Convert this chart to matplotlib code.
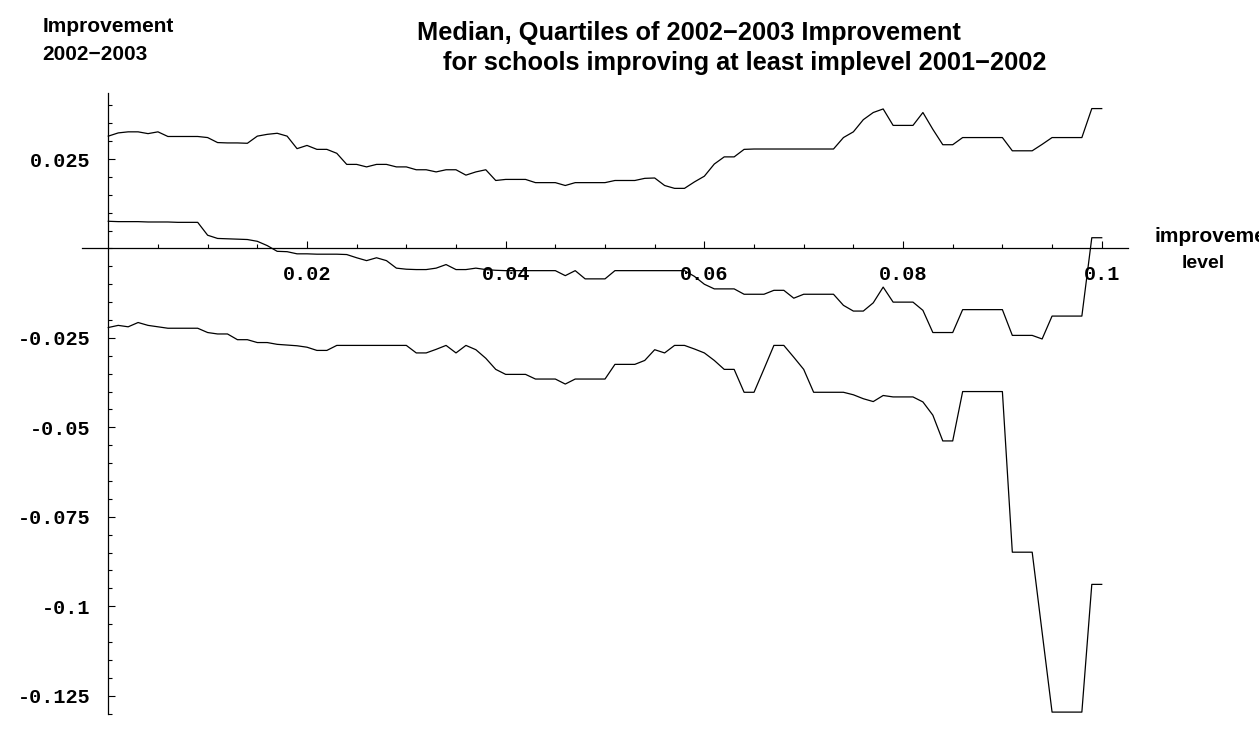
import numpy as np
import matplotlib
matplotlib.use("Agg")
import matplotlib.pyplot as plt

# improvement level 2001-2002 (0 .. 0.1 step 0.001)
implevel = np.arange(101) / 1000.0

upper_q = [0.0314, 0.0323, 0.0326, 0.0326, 0.0321, 0.0326, 0.0313, 0.0313, 0.0313, 0.0313,
           0.0310, 0.0296, 0.0295, 0.0295, 0.0294, 0.0314, 0.0319, 0.0322, 0.0314, 0.0279,
           0.0288, 0.0277, 0.0277, 0.0266, 0.0235, 0.0235, 0.0228, 0.0235, 0.0235, 0.0228,
           0.0228, 0.0220, 0.0220, 0.0214, 0.0220, 0.0220, 0.0205, 0.0214, 0.0220, 0.0190,
           0.0193, 0.0193, 0.0193, 0.0184, 0.0184, 0.0184, 0.0176, 0.0184, 0.0184, 0.0184,
           0.0184, 0.0190, 0.0190, 0.0190, 0.0196, 0.0197, 0.0176, 0.0168, 0.0168, 0.0186,
           0.0202, 0.0236, 0.0256, 0.0256, 0.0277, 0.0278, 0.0278, 0.0278, 0.0278, 0.0278,
           0.0278, 0.0278, 0.0278, 0.0278, 0.0310, 0.0326, 0.0360, 0.0380, 0.0390, 0.0344,
           0.0344, 0.0344, 0.0380, 0.0333, 0.0290, 0.0290, 0.0310, 0.0310, 0.0310, 0.0310,
           0.0310, 0.0273, 0.0273, 0.0273, 0.0291, 0.0310, 0.0310, 0.0310, 0.0310, 0.0391,
           0.0391]

median = [0.0076, 0.0075, 0.0075, 0.0075, 0.0074, 0.0074, 0.0074, 0.0073, 0.0073, 0.0073,
          0.0037, 0.0028, 0.0027, 0.0026, 0.0025, 0.0020, 0.0008, -0.0008, -0.0009, -0.0015,
          -0.0015, -0.0016, -0.0016, -0.0016, -0.0017, -0.0026, -0.0034, -0.0026, -0.0034, -0.0055,
          -0.0058, -0.0059, -0.0059, -0.0055, -0.0045, -0.0059, -0.0059, -0.0055, -0.0059, -0.0061,
          -0.0062, -0.0062, -0.0062, -0.0062, -0.0062, -0.0062, -0.0076, -0.0062, -0.0085, -0.0085,
          -0.0085, -0.0062, -0.0062, -0.0062, -0.0062, -0.0062, -0.0062, -0.0062, -0.0062, -0.0078,
          -0.0100, -0.0113, -0.0113, -0.0113, -0.0128, -0.0128, -0.0128, -0.0117, -0.0117, -0.0139,
          -0.0128, -0.0128, -0.0128, -0.0128, -0.0159, -0.0175, -0.0175, -0.0152, -0.0108, -0.0150,
          -0.0150, -0.0150, -0.0173, -0.0235, -0.0235, -0.0235, -0.0171, -0.0171, -0.0171, -0.0171,
          -0.0171, -0.0243, -0.0243, -0.0243, -0.0253, -0.0189, -0.0189, -0.0189, -0.0189, 0.0030,
          0.0030]

lower_q = [-0.0221, -0.0215, -0.0219, -0.0207, -0.0215, -0.0219, -0.0223, -0.0223, -0.0223, -0.0223,
           -0.0235, -0.0239, -0.0239, -0.0255, -0.0255, -0.0263, -0.0263, -0.0268, -0.0270, -0.0272,
           -0.0276, -0.0285, -0.0285, -0.0271, -0.0271, -0.0271, -0.0271, -0.0271, -0.0271, -0.0271,
           -0.0271, -0.0292, -0.0292, -0.0282, -0.0271, -0.0292, -0.0271, -0.0283, -0.0307, -0.0338,
           -0.0352, -0.0352, -0.0352, -0.0365, -0.0365, -0.0365, -0.0379, -0.0365, -0.0365, -0.0365,
           -0.0365, -0.0324, -0.0324, -0.0324, -0.0313, -0.0283, -0.0292, -0.0271, -0.0271, -0.0281,
           -0.0292, -0.0313, -0.0338, -0.0338, -0.0402, -0.0402, -0.0337, -0.0271, -0.0271, -0.0304,
           -0.0338, -0.0402, -0.0402, -0.0402, -0.0402, -0.0409, -0.0420, -0.0428, -0.0411, -0.0415,
           -0.0415, -0.0415, -0.0429, -0.0466, -0.0538, -0.0538, -0.0400, -0.0400, -0.0400, -0.0400,
           -0.0400, -0.0849, -0.0849, -0.0849, -0.1073, -0.1296, -0.1296, -0.1296, -0.1296, -0.0939,
           -0.0939]

xticks = [0.02, 0.04, 0.06, 0.08, 0.1]
xtick_labels = ["0.02", "0.04", "0.06", "0.08", "0.1"]
yticks = [0.025, -0.025, -0.05, -0.075, -0.1, -0.125]
ytick_labels = ["0.025", "-0.025", "-0.05", "-0.075", "-0.1", "-0.125"]

W, H = 1259, 731
fig = plt.figure(figsize=(W / 100, H / 100), dpi=100)
ax = fig.add_axes([0.0655, 0.0239, 0.8301, 0.8486])

for s in (upper_q, median, lower_q):
    ax.plot(implevel, s, color="black", lw=0.9)

ax.set_xlim(-0.0026, 0.1026)
ax.set_ylim(-0.1275, 0.0434)

# mathematica style axes through the origin
ax.spines["left"].set_position(("data", 0))
ax.spines["bottom"].set_position(("data", 0))
ax.spines["top"].set_visible(False)
ax.spines["right"].set_visible(False)
for sp in ("left", "bottom"):
    ax.spines[sp].set_linewidth(0.9)

ax.set_xticks(xticks)
ax.set_xticklabels(xtick_labels)
ax.set_yticks(yticks)
ax.set_yticklabels(ytick_labels)
ax.set_xticks(np.arange(1, 21) * 0.005, minor=True)
ax.set_yticks(np.arange(-26, 9) * 0.005, minor=True)

for lab in ax.get_xticklabels() + ax.get_yticklabels():
    lab.set_fontfamily("Liberation Mono")
    lab.set_fontweight("bold")
    lab.set_fontsize(14.5)

ax.tick_params(which="both", direction="in", width=0.8, color="black")
ax.tick_params(which="major", length=5)
ax.tick_params(which="minor", length=3)
ax.tick_params(axis="x", which="major", pad=12)
ax.tick_params(axis="y", which="major", pad=13)

sans = "Liberation Sans"
fig.text(689 / W, 1 - 33 / H, "Median, Quartiles of 2002\u22122003 Improvement",
         ha="center", va="center", fontsize=18.3, weight="bold", family=sans)
fig.text(745 / W, 1 - 63 / H, "for schools improving at least implevel 2001\u22122002",
         ha="center", va="center", fontsize=18.3, weight="bold", family=sans)
fig.text(42.5 / W, 1 - 27 / H, "Improvement", ha="left", va="center",
         fontsize=15, weight="bold", family=sans)
fig.text(42.5 / W, 1 - 55 / H, "2002\u22122003", ha="left", va="center",
         fontsize=15, weight="bold", family=sans)
# axis label is cut off at the right edge in the original as well
fig.text(1155 / W, 1 - 237 / H, "improvement", ha="left", va="center",
         fontsize=15, weight="bold", family=sans)
fig.text(1203 / W, 1 - 264 / H, "level", ha="center", va="center",
         fontsize=14, weight="bold", family=sans)

fig.savefig("out.png", dpi=100, facecolor="white")
